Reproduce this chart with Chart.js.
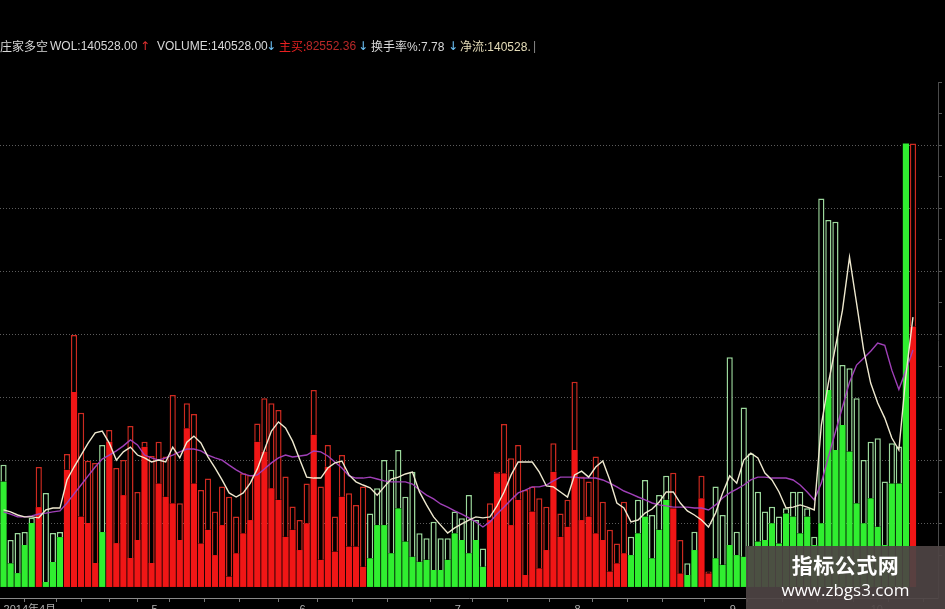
<!DOCTYPE html>
<html>
<head>
<meta charset="utf-8">
<script src="https://cdn.jsdelivr.net/npm/chart.js@4"></script>
<style>
  html, body { margin: 0; padding: 0; background: #000; }
  #wrap { position: relative; width: 945px; height: 609px; overflow: hidden; background: #000; }
  canvas { position: absolute; left: 0; top: 0; }
  .hd { position: absolute; top: 38px; font: 12px "Liberation Sans", "Noto Sans CJK SC", sans-serif; white-space: nowrap; color: #d8d8d8; line-height: 16px; }
  .cjk { font-family: "Noto Sans CJK SC", sans-serif; }
  .arr { font-family: "DejaVu Sans", sans-serif; font-size: 12px; }
  #wm { position: absolute; left: 746px; top: 546px; width: 199px; height: 63px; background: rgba(78,68,68,0.93); color: #fff; text-align: center; }
  #wm .t1 { font: bold 21px "Noto Sans CJK SC", sans-serif; line-height: 24px; margin-top: 6px; letter-spacing: 0.5px; }
  #wm .t2 { font: 17px "Open Sans", "Noto Sans", sans-serif; line-height: 22px; margin-top: 3px; }
</style>
</head>
<body>
<div id="wrap">
  <canvas id="c" width="945" height="609"></canvas>
  <div class="hd cjk" style="left:0px;">庄家多空</div>
  <div class="hd" style="left:50px;">WOL:140528.00</div>
  <div class="hd arr" style="left:140px;color:#e03030;">↑</div>
  <div class="hd" style="left:157px;">VOLUME:140528.00</div>
  <div class="hd arr" style="left:266px;color:#70c8ff;">↓</div>
  <div class="hd cjk" style="left:279px;color:#e82020;">主买:</div>
  <div class="hd" style="left:306px;color:#b82828;">82552.36</div>
  <div class="hd arr" style="left:358px;color:#70c8ff;">↓</div>
  <div class="hd" style="left:371px;"><span class="cjk">换手率</span>%:7.78</div>
  <div class="hd arr" style="left:448px;color:#70c8ff;">↓</div>
  <div class="hd" style="left:460px;color:#e4dcb8;"><span class="cjk">净流</span>:140528.</div>
  <div class="hd" style="left:533px;color:#888;">|</div>
  <div id="wm"><div class="t1">指标公式网</div><div class="t2">www.zbgs3.com</div></div>
</div>
<script>
// ---- data (values in thousands of shares) ----
const days = Array.from({ length: 130 }, (_, i) => i + 1);

const volume = [
  38.7,14.9,17.1,17.4,21.9,38.0,29.8,17.1,17.4,42.1,
  79.8,55.2,40.0,39.3,45.0,49.7,37.7,40.2,51.0,30.1,
  46.0,41.5,46.0,41.3,60.8,26.5,58.2,54.8,30.7,34.4,
  23.9,31.8,28.6,22.3,36.0,35.5,51.8,59.8,58.2,56.1,
  35.0,25.5,21.2,32.8,62.4,31.8,45.0,22.3,41.8,29.7,
  26.0,31.8,23.3,31.3,40.2,37.1,43.4,28.6,36.5,17.0,
  15.4,20.7,15.4,15.4,23.9,21.8,29.1,21.2,12.2,26.5,
  36.5,51.6,40.8,45.0,30.7,31.8,28.1,25.4,45.5,23.3,
  27.6,65.0,35.0,33.4,41.3,27.0,18.1,13.8,27.0,15.9,
  27.6,33.9,22.8,29.1,35.2,36.2,14.9,7.5,17.5,35.2,
  4.9,31.8,22.8,72.8,17.5,56.9,42.3,30.2,23.9,25.4,
  22.3,24.9,30.2,30.2,24.9,15.9,123.1,116.3,115.7,70.3,
  69.3,59.8,40.2,46.0,47.1,33.4,45.5,44.5,140.5,140.528
];

const mainBuy = [
  33.4,7.5,4.4,13.3,20.3,25.3,1.6,7.9,15.8,37.1,
  61.8,22.3,20.3,7.6,17.4,46.0,13.9,29.1,9.2,14.9,
  44.4,7.6,32.8,28.6,26.5,14.9,50.3,32.8,13.8,18.1,
  10.1,19.6,3.3,10.7,17.0,21.2,46.0,42.9,31.3,27.6,
  15.9,18.1,11.7,20.2,48.2,8.6,38.1,11.2,28.6,12.8,
  12.8,6.4,9.1,19.6,19.6,10.7,24.9,14.4,9.6,8.0,
  8.6,5.4,5.4,8.6,17.0,14.9,10.7,14.9,6.4,21.2,
  36.0,36.0,19.6,27.6,3.8,23.9,5.9,11.7,36.5,15.9,
  19.1,43.4,21.2,22.3,17.0,14.9,4.9,7.5,10.7,10.1,
  17.0,22.3,9.1,18.1,27.6,24.9,4.3,3.8,11.7,28.1,
  4.3,9.1,7.0,13.3,10.1,9.6,12.8,14.4,14.9,20.2,
  13.8,23.3,22.3,17.0,22.3,13.3,20.2,62.4,43.4,51.3,
  42.9,26.5,20.2,28.1,19.1,13.3,32.8,32.8,140.5,82.552
];

// R = red (up) day, G = green (down) day
const side = [
  'G','G','G','G','G','R','G','G','G','R',
  'R','R','R','R','G','R','R','R','R','R',
  'R','R','R','R','R','R','R','R','R','R',
  'R','R','R','R','R','R','R','R','R','R',
  'R','R','R','R','R','R','R','R','R','R',
  'R','R','G','G','G','G','G','G','G','G',
  'G','G','G','G','G','G','G','G','G','R',
  'R','R','R','R','R','R','R','R','R','R',
  'R','R','R','R','R','R','R','R','R','G',
  'G','G','G','G','G','R','R','G','G','R',
  'R','G','G','G','G','G','G','G','G','G',
  'G','G','G','G','G','G','G','G','G','G',
  'G','G','G','G','G','G','G','G','G','R'
];

const shortLine = [
  24.4,23.8,22.8,22.2,22.2,21.9,24.4,25.0,25.0,33.9,
  38.0,41.8,45.6,48.8,49.4,45.6,40.2,42.8,44.3,41.8,
  40.9,39.6,40.2,39.6,44.3,40.9,45.9,47.8,45.6,41.2,
  37.7,33.9,29.8,28.5,29.8,32.9,37.4,43.4,49.4,52.3,
  50.4,46.2,40.5,34.8,34.5,34.5,37.7,39.3,39.9,35.5,
  33.3,32.3,31.4,29.1,31.7,34.2,34.8,35.8,36.4,30.1,
  26.0,22.2,19.6,17.1,18.7,20.0,21.2,22.2,21.9,22.2,
  25.7,30.1,35.5,39.6,39.6,39.6,36.4,32.0,31.7,30.1,
  28.5,35.5,36.7,34.8,38.0,39.9,33.9,26.6,25.0,20.6,
  21.2,23.4,24.7,26.9,30.1,30.1,26.6,24.1,22.8,21.2,
  19.0,23.4,29.8,35.2,32.9,40.2,42.4,40.9,36.1,33.9,
  30.1,25.0,25.3,26.0,25.3,24.4,51.3,64.6,76.0,87.7,
  104.5,89.9,75.1,64.6,58.3,53.5,47.2,43.4,67.0,85.5
];

const longLine = [
  23.8,23.1,22.2,22.2,22.5,23.1,23.4,23.8,24.1,26.6,
  29.5,32.3,35.2,38.0,40.5,41.8,43.1,44.7,46.6,45.0,
  41.8,40.9,40.2,40.9,41.8,42.8,43.7,43.7,43.1,41.8,
  40.9,40.2,38.6,37.1,35.8,35.2,35.5,37.4,39.3,40.9,
  41.8,41.2,41.5,41.8,43.1,42.8,41.5,39.6,37.7,35.2,
  34.5,34.5,34.8,34.2,33.6,33.3,33.3,33.3,32.6,30.7,
  29.1,27.9,26.3,25.3,24.1,23.1,21.9,20.6,19.0,20.6,
  23.1,25.3,27.6,29.8,30.7,31.7,31.7,32.3,33.6,34.8,
  34.8,34.8,34.5,34.5,34.5,33.9,32.9,31.7,30.4,29.5,
  28.5,27.6,26.6,26.0,25.7,25.3,25.3,25.3,25.0,25.0,
  24.4,26.0,28.2,29.8,31.0,32.3,33.9,34.8,34.8,34.5,
  34.5,34.5,33.9,32.3,30.1,27.6,32.9,41.2,49.1,57.0,
  64.9,70.3,72.5,74.7,77.3,76.6,68.7,62.6,68.7,75.1
];

// date axis: weekly tick positions (day index) and month labels
const weekTicks = [1,7,10,14,18,22,27,32,37,43,48,53,58,65,70,75,82,87,92,97,104,109,114,119,124,129];
const tickText = { 1: '2014年4月', 22: '5', 43: '6', 65: '7', 82: '8', 104: '9', 124: '10' };

// ---- chart ----
const FILL = { R: '#f01616', G: '#30ee30' };
const EDGE = { R: '#cc2a20', G: '#9cd89c' };

new Chart(document.getElementById('c'), {
  type: 'bar',
  data: {
    datasets: [
      {
        type: 'line', label: 'short', order: 0,
        data: days.map((d, i) => ({ x: d, y: shortLine[i] })),
        borderColor: '#efe9cf', borderWidth: 1.4, pointRadius: 0, tension: 0
      },
      {
        type: 'line', label: 'long', order: 1,
        data: days.map((d, i) => ({ x: d, y: longLine[i] })),
        borderColor: '#a040b8', borderWidth: 1.4, pointRadius: 0, tension: 0
      },
      {
        label: 'vol', order: 2, grouped: false,
        data: days.map((d, i) => ({ x: d, y: [mainBuy[i], volume[i]] })),
        backgroundColor: '#000',
        borderColor: side.map(s => EDGE[s]),
        borderWidth: 1.5, borderSkipped: 'start',
        barPercentage: 0.88, categoryPercentage: 1
      },
      {
        label: 'main', order: 3, grouped: false,
        data: days.map((d, i) => ({ x: d, y: mainBuy[i] })),
        backgroundColor: side.map(s => FILL[s]),
        borderWidth: 0,
        barPercentage: 0.88, categoryPercentage: 1
      }
    ]
  },
  options: {
    responsive: false,
    animation: false,
    devicePixelRatio: 1,
    layout: { padding: { top: 82, left: 0, right: 0, bottom: 0 } },
    plugins: { legend: { display: false }, tooltip: { enabled: false }, title: { display: false } },
    scales: {
      x: {
        type: 'linear', position: 'bottom', min: 0.5, max: 133.55, offset: false,
        afterFit: s => { s.height = 11; },
        afterBuildTicks: s => { s.ticks = weekTicks.map(v => ({ value: v })); },
        grid: { drawOnChartArea: false, drawTicks: true, tickLength: 4, color: '#777', tickColor: '#777' },
        border: { display: true, color: '#8a8a8a', width: 1 },
        ticks: {
          autoSkip: false, maxRotation: 0, padding: 1, align: 'start',
          color: '#b0b0b0', font: { size: 11, family: 'Liberation Sans, Noto Sans CJK SC' },
          callback: v => tickText[v] || ''
        }
      },
      y: {
        type: 'linear', position: 'right', min: -3.5, max: 160,
        afterFit: s => { s.width = 7; },
        ticks: { display: false, stepSize: 10 },
        grid: {
          drawTicks: true, tickLength: 4,
          color: c => (c.tick && c.tick.value > 0 && c.tick.value < 160 && c.tick.value % 20 === 0) ? '#5c5c5c' : 'rgba(0,0,0,0)',
          tickColor: c => (c.tick && c.tick.value >= 0) ? '#555' : 'rgba(0,0,0,0)'
        },
        border: { display: true, color: '#4a4a4a', width: 1, dash: [1, 2] }
      }
    }
  }
});
</script>
</body>
</html>
